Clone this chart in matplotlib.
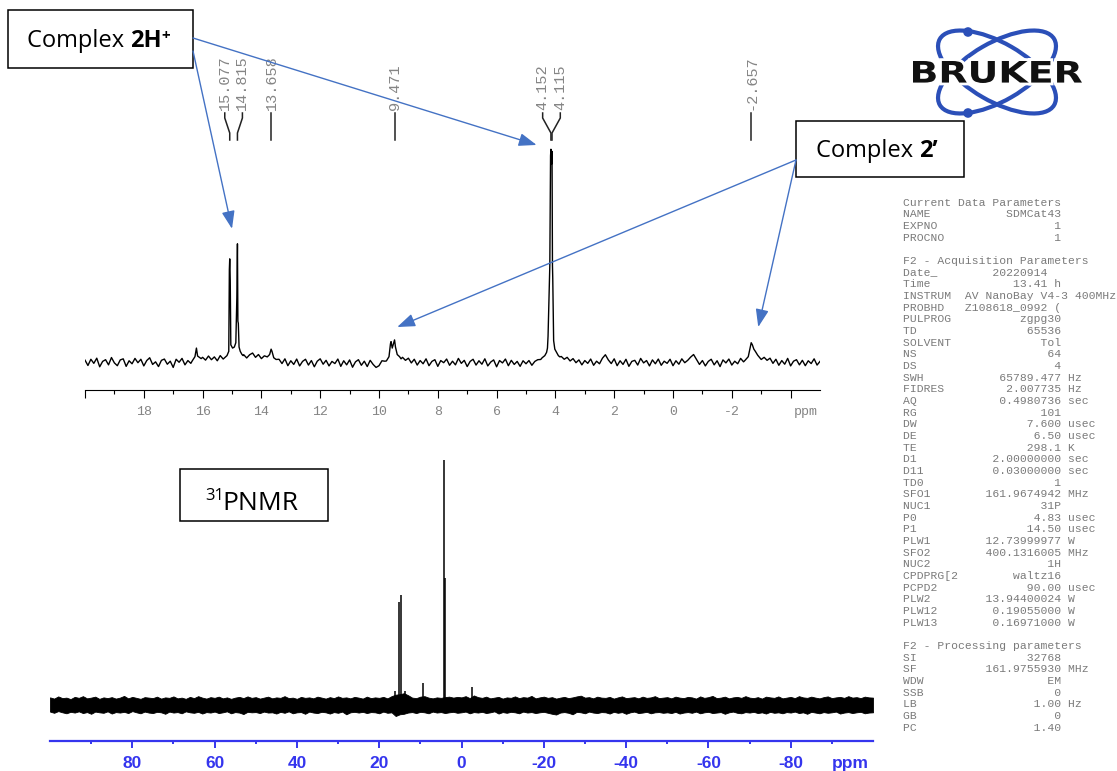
import numpy as np
import matplotlib
matplotlib.use('Agg')
import matplotlib.pyplot as plt
from matplotlib.patches import Rectangle, Ellipse, Circle, PathPatch
from matplotlib.textpath import TextPath
from matplotlib.font_manager import FontProperties
from matplotlib.transforms import blended_transform_factory, Affine2D

W, H = 1117, 771

# ---- expanded 31P trace, ppm 20 .. -5 (tallest line = 100)
UP_RANGE = (20, -5)
UP_NOISE = [
    0.9, -1.6, 1.3, -0.6, 1.8, -2.2, 0.3, 1.1, -1.3, 2.1, -0.4, -1.7, 1.0, 1.5, -2.0, 0.6, -0.8, 1.7, -0.3, 1.3, -1.8, 0.7, 2.0, -1.1, 0.1,
    -2.1, 0.8, 1.4, -1.0, 0.4, -2.5, 1.3, -0.1, 1.7, -1.3, 0.7, -0.6, 0.8, 0.2, 1.0, 2.2, 0.9, 2.8, 1.1, 2.4, 0.6, 3.0, 1.4, 2.0, 3.0,
    5.0, 5.0, 5.0, 5.0, 3.4, 1.9, 3.4, 4.2, 2.2, 3.5, 1.6, 2.9, 1.0, 1.0, 1.0, 1.0, 1.3, -0.7, 1.5, -1.7, 0.6, -1.1, 1.4, -1.8, 0.3,
    1.3, -1.4, 0.7, -2.2, 0.4, 1.5, -1.0, 0.8, -1.8, 0.3, -0.7, 1.4, -2.0, 0.6, -1.3, 1.0, -2.4, 0.1, 1.1, -1.5, 0.4, -2.1, 0.8, -1.1, -2.5,
    -1.7, 0.6, 0.4, 0.0, 0.0, 0.0, 0.0, 0.0, 2.2, 0.8, 1.8, -0.4, 1.3, -1.4, 0.7, -0.8, 1.5, -1.7, 0.3, 1.1, -2.0, 0.7, -0.3, 1.4, -1.5,
    0.4, -1.3, 1.7, -0.6, 0.8, -2.1, 0.3, 1.3, -1.4, 0.6, -1.0, 1.5, -1.8, 0.0, 1.0, -2.2, 0.7, -0.4, 1.4, -1.7, 0.8, -1.1, 0.3, -2.0, 0.6,
    -0.8, 0.7, -1.5, 0.3, 1.1, 1.2, 0.0, 0.0, 0.0, 0.0, 0.0, 0.0, 2.6, 1.3, 2.2, 0.5, 1.6, -0.3, 1.0, -1.3, 0.7, -0.6, 1.4, -1.5, 0.4,
    -0.8, 1.8, 3.4, 1.0, -0.7, 1.5, -1.7, 0.6, -1.1, 1.3, -2.0, 0.3, 0.8, -1.4, 1.7, -0.4, 0.7, -1.8, 1.0, -0.8, 1.4, -1.5, 0.4, -0.6, 1.3,
    -1.7, 0.6, -1.0, 1.5, -0.3, 0.8, 2.3, 3.5, 1.2, -1.1, 0.7, -1.8, 0.3, 1.3, -1.3, 0.6, -2.1, 1.0, -0.4, 1.4, -1.4, 0.4, -0.8, 1.7, 0.1,
    0.0, 0.0, 0.0, 0.0, 0.0, 0.0, 2.2, 0.8, 1.8, -0.6, 1.3, -1.5, 0.7, -1.0, 1.7, -1.8, 0.4, 1.1, -1.3, 0.8, -1.7, 0.6, -0.7, 1.5, -1.4, 0.3,
]
PK162_PPM = [16.35, 16.26, 16.21, 16.17, 16.05]
PK162_INT = [0.6, 2.5, 6.5, 2.8, 1.6]
DBL15_PPM = [15.25, 15.17, 15.11, 15.09, 15.077, 15.06, 15.04, 14.98, 14.92, 14.87,
             14.835, 14.82, 14.815, 14.80, 14.785, 14.76, 14.72, 14.66, 14.62]
DBL15_INT = [2.0, 3.0, 5.0, 43, 48, 38, 8, 6.5, 7, 9, 30, 52, 55, 19, 18, 7, 5, 3.5, 3.0]
PK137_PPM = [13.80, 13.72, 13.67, 13.64, 13.58, 13.50]
PK137_INT = [2.4, 3.5, 6.0, 5.0, 2.0, 1.2]
PK95_PPM = [9.75, 9.66, 9.61, 9.59, 9.55, 9.50, 9.471, 9.44, 9.38, 9.30, 9.25]
PK95_INT = [0.5, 2.5, 8.5, 9.5, 6.5, 9.0, 10.3, 7.0, 3.5, 2.5, 1.5]
PK41_PPM = [4.45, 4.36, 4.30, 4.27, 4.25, 4.22, 4.19, 4.165, 4.152, 4.135, 4.115,
            4.10, 4.09, 4.06, 4.02, 3.96, 3.90, 3.85]
PK41_INT = [2.0, 3.0, 4.5, 6.5, 12, 29, 45, 96, 99, 92, 98, 45, 39, 10, 6, 4.5, 3.0, 2.4]
PKM27_PPM = [-2.45, -2.56, -2.62, -2.66, -2.70, -2.75, -2.80, -2.88, -2.95, -3.0]
PKM27_INT = [0.8, 2.5, 6.5, 9.0, 8.0, 6.0, 5.0, 3.2, 2.0, 1.2]
PEAK_LABELS = [15.077, 14.815, 13.658, 9.471, 4.152, 4.115, -2.657]

# ---- full-width trace, ppm 100 .. -100 (noise band edges + lines)
LO_RANGE = (100, -100)
LO_TOP = [
    3.1, 2.6, 3.5, 2.8, 3.0, 2.4, 3.3, 2.9, 3.6, 2.7, 3.0, 3.4, 2.5, 3.1, 2.8, 3.2, 2.6, 3.0, 3.7, 2.7, 3.3, 2.9, 2.5, 3.2, 3.0,
    2.8, 3.4, 2.6, 3.1, 2.9, 3.5, 2.7, 3.0, 2.5, 3.3, 2.8, 3.6, 3.0, 2.6, 3.2, 2.9, 3.4, 2.7, 3.1, 2.5, 3.0, 3.3, 2.8, 3.5, 2.9,
    3.2, 2.6, 3.0, 3.4, 2.7, 3.1, 2.9, 3.6, 2.8, 3.0, 2.5, 3.3, 2.9, 3.1, 2.7, 3.4, 3.0, 2.6, 3.2, 2.8, 3.5, 2.9, 3.1, 2.7, 3.3,
    3.0, 2.6, 3.4, 2.8, 3.1, 2.9, 3.3, 2.7, 3.6, 4.2, 4.4, 4.8, 4.0, 3.0, 2.8, 3.4, 3.6, 3.0, 2.7, 3.1, 2.9, 3.2, 3.4, 3.0, 3.3,
    3.1, 3.6, 2.8, 3.9, 3.2, 2.9, 3.4, 2.7, 3.0, 3.3, 2.6, 3.1, 2.9, 3.5, 2.8, 3.2, 3.0, 3.7, 2.7, 3.1, 3.4, 2.9, 3.2, 2.6, 3.0,
    3.3, 2.8, 3.1, 3.5, 3.8, 3.0, 3.2, 2.7, 3.4, 3.0, 2.9, 3.3, 2.6, 3.1, 3.5, 2.8, 3.0, 3.2, 2.7, 3.4, 2.9, 3.1, 3.6, 2.8, 3.0,
    3.2, 2.7, 3.4, 3.0, 2.8, 3.3, 3.1, 2.6, 3.5, 2.9, 3.2, 3.7, 2.8, 3.0, 3.4, 2.7, 3.1, 3.3, 2.9, 3.6, 3.0, 2.8, 3.2, 2.6, 3.4,
    3.1, 2.9, 3.5, 2.7, 3.0, 3.3, 2.8, 3.6, 3.1, 2.9, 3.4, 3.0, 2.7, 3.2, 3.5, 2.8, 3.1, 3.3, 2.9, 3.6, 3.0, 3.2, 2.8, 3.4, 3.1,
    3.0,
]
LO_BOT = [
    -2.7, -3.2, -2.5, -3.0, -3.4, -2.8, -3.1, -2.6, -3.3, -2.9, -3.6, -2.7, -3.0, -3.2, -2.6, -3.5, -2.9, -3.1, -2.8, -3.3, -2.5, -3.0, -3.4, -2.7, -3.1,
    -3.3, -2.8, -3.0, -3.6, -2.7, -3.1, -2.9, -3.4, -2.6, -3.0, -3.2, -2.8, -3.5, -2.9, -3.1, -2.7, -3.3, -3.0, -2.6, -3.4, -2.9, -3.1, -3.7, -2.8, -3.0,
    -2.9, -3.3, -2.7, -3.1, -3.0, -3.5, -2.8, -3.2, -2.6, -3.4, -3.0, -2.9, -3.6, -2.7, -3.1, -3.3, -2.8, -3.0, -3.5, -2.9, -3.2, -2.7, -3.8, -3.0, -2.8,
    -3.1, -2.8, -3.3, -2.9, -3.0, -3.4, -2.7, -3.2, -3.0, -4.5, -3.8, -3.6, -3.1, -2.9, -3.3, -2.8, -3.0, -3.4, -2.7, -3.1, -2.9, -3.3, -3.0, -2.8, -3.2,
    -3.0, -2.7, -3.4, -2.9, -3.1, -2.8, -3.3, -3.0, -2.6, -3.5, -2.9, -3.2, -2.8, -3.0, -3.4, -2.7, -3.1, -2.9, -3.3, -3.0, -2.8, -3.2, -3.6, -3.9, -3.1,
    -2.9, -3.2, -3.8, -2.8, -3.0, -3.4, -2.7, -3.1, -3.3, -2.9, -3.0, -3.5, -2.8, -3.2, -2.9, -3.6, -3.0, -2.7, -3.3, -3.1, -2.8, -3.4, -3.0, -2.9, -3.2,
    -3.0, -3.3, -2.8, -3.5, -3.1, -2.9, -3.2, -2.7, -3.4, -3.0, -2.8, -3.3, -3.1, -2.9, -3.6, -3.0, -2.7, -3.2, -3.4, -2.9, -3.1, -2.8, -3.3, -3.0, -3.5,
    -2.8, -3.2, -3.0, -3.4, -2.9, -3.1, -2.7, -3.3, -3.0, -3.6, -2.8, -3.1, -3.4, -2.9, -3.2, -3.0, -2.7, -3.5, -3.1, -2.9, -3.3, -3.0, -2.8, -3.4, -3.1,
    -3.0,
]
LO_PEAK_PPM = [16.2, 15.077, 14.815, 13.658, 9.471, 4.152, 4.115, -2.657]
LO_PEAK_INT = [5.5, 42, 45, 5.7, 9.0, 100, 52, 7.5]

# ---- acquisition parameter listing
CURRENT_ROWS = [("NAME", "SDMCat43", ""), ("EXPNO", "1", ""), ("PROCNO", "1", "")]
ACQ_ROWS = [
    ("Date_", "20220914  ", ""), ("Time", "13.41 h", ""),
    ("INSTRUM", "AV NanoBay V4-3 400MHz", ""), ("PROBHD", "Z108618_0992 (", ""),
    ("PULPROG", "zgpg30", ""), ("TD", "65536", ""), ("SOLVENT", "Tol", ""),
    ("NS", "64", ""), ("DS", "4", ""), ("SWH", "65789.477", "Hz"),
    ("FIDRES", "2.007735", "Hz"), ("AQ", "0.4980736", "sec"), ("RG", "101", ""),
    ("DW", "7.600", "usec"), ("DE", "6.50", "usec"), ("TE", "298.1", "K"),
    ("D1", "2.00000000", "sec"), ("D11", "0.03000000", "sec"), ("TD0", "1", ""),
    ("SFO1", "161.9674942", "MHz"), ("NUC1", "31P", ""), ("P0", "4.83", "usec"),
    ("P1", "14.50", "usec"), ("PLW1", "12.73999977", "W"), ("SFO2", "400.1316005", "MHz"),
    ("NUC2", "1H", ""), ("CPDPRG[2", "waltz16", ""), ("PCPD2", "90.00", "usec"),
    ("PLW2", "13.94400024", "W"), ("PLW12", "0.19055000", "W"), ("PLW13", "0.16971000", "W"),
]
PROC_ROWS = [("SI", "32768", ""), ("SF", "161.9755930", "MHz"), ("WDW", "EM", ""),
             ("SSB", "0", ""), ("LB", "1.00", "Hz"), ("GB", "0", ""), ("PC", "1.40", "")]

ARROW = '#4472C4'
LOBLUE = '#3535ee'
GREY = '#858585'


def merge_trace(grid, noise, groups):
    x = np.asarray(grid, float)
    y = np.asarray(noise, float)
    keep = np.ones(len(x), bool)
    for px, _ in groups:
        keep &= ~((x >= min(px) - 1e-9) & (x <= max(px) + 1e-9))
    xs = np.concatenate([x[keep]] + [np.asarray(p, float) for p, _ in groups])
    ys = np.concatenate([y[keep]] + [np.asarray(v, float) for _, v in groups])
    order = np.argsort(-xs)
    return xs[order], ys[order]


def spread_labels(ppms, gap):
    ppms = sorted(ppms, reverse=True)
    groups = [[ppms[0]]]
    for p in ppms[1:]:
        if groups[-1][-1] - p < gap:
            groups[-1].append(p)
        else:
            groups.append([p])
    out = []
    for g in groups:
        c = np.mean(g)
        out += [(p, c + gap * ((len(g) - 1) / 2 - k)) for k, p in enumerate(g)]
    return out


def fmt_row(name, value, unit):
    return f"{name:<9}{value:>14} {unit}".rstrip()


fig = plt.figure(figsize=(W / 100, H / 100), dpi=100)

# ---------------- upper spectrum ----------------
ax_up = fig.add_axes([85 / W, (H - 390) / H, 735 / W, 250 / H])
up_grid = np.linspace(UP_RANGE[0], UP_RANGE[1], len(UP_NOISE))
groups = [(PK162_PPM, PK162_INT), (DBL15_PPM, DBL15_INT), (PK137_PPM, PK137_INT),
          (PK95_PPM, PK95_INT), (PK41_PPM, PK41_INT), (PKM27_PPM, PKM27_INT)]
ux, uy = merge_trace(up_grid, UP_NOISE, groups)
ax_up.plot(ux, uy, color='black', lw=1.0)
ax_up.set_xlim(*UP_RANGE)
ax_up.set_ylim(-13.0, 103.3)
for s in ('top', 'left', 'right'):
    ax_up.spines[s].set_visible(False)
ax_up.spines['bottom'].set_linewidth(0.8)
ax_up.set_yticks([])
up_major = list(range(20, -5, -2))
ax_up.set_xticks(up_major)
ax_up.set_xticklabels(['' if t in (20, -4) else str(t) for t in up_major])
ax_up.set_xticks(list(range(19, -5, -2)), minor=True)
ax_up.tick_params(axis='x', which='major', length=6, width=0.8, pad=5.5,
                  labelsize=9.5, labelcolor=GREY, labelfontfamily='Liberation Mono')
ax_up.tick_params(axis='x', which='minor', length=3, width=0.8)
ax_up.text(0.981, -0.064, 'ppm', transform=ax_up.transAxes, ha='center', va='top',
           fontsize=9.5, color=GREY, family='Liberation Mono')
ax_up.patch.set_visible(False)

# ---------------- lower spectrum ----------------
ax_lo = fig.add_axes([50 / W, 30 / H, 823 / W, 286 / H])
lo_grid = np.linspace(LO_RANGE[0], LO_RANGE[1], len(LO_TOP))
ax_lo.fill_between(lo_grid, LO_BOT, LO_TOP, color='black', lw=0.6)
ax_lo.vlines(LO_PEAK_PPM, 0, LO_PEAK_INT, color='black', lw=1.1)
ax_lo.set_xlim(*LO_RANGE)
ax_lo.set_ylim(-14.7, 102)
for s in ('top', 'left', 'right'):
    ax_lo.spines[s].set_visible(False)
ax_lo.spines['bottom'].set_color(LOBLUE)
ax_lo.spines['bottom'].set_linewidth(1.6)
ax_lo.set_yticks([])
lo_major = list(range(80, -81, -20))
ax_lo.set_xticks(lo_major)
ax_lo.set_xticklabels([str(t) for t in lo_major])
ax_lo.set_xticks([t for t in range(90, -91, -10) if t % 20], minor=True)
ax_lo.tick_params(axis='x', which='major', length=5, width=1.4, color=LOBLUE, pad=6,
                  labelsize=12.5, labelcolor=LOBLUE)
ax_lo.tick_params(axis='x', which='minor', length=2.5, width=1.4, color=LOBLUE)
for lab in ax_lo.get_xticklabels():
    lab.set_fontweight('bold')
    lab.set_fontfamily('Liberation Sans')
ax_lo.text(0.972, -0.052, 'ppm', transform=ax_lo.transAxes, ha='center', va='top',
           fontsize=12.5, fontweight='bold', color=LOBLUE, family='Liberation Sans')
ax_lo.patch.set_visible(False)

# ---------------- overlay (pixel coordinates, y downwards) ----------------
ov = fig.add_axes([0, 0, 1, 1], zorder=5)
ov.set_xlim(0, W)
ov.set_ylim(H, 0)
ov.axis('off')
up_px = blended_transform_factory(ax_up.transData, ov.transData)

# peak labels with their connector strokes
for peak, lab_x in spread_labels(PEAK_LABELS, 0.6):
    ov.plot([lab_x, lab_x, peak, peak], [113, 118, 133, 140], color='#222222',
            lw=1.1, transform=up_px, solid_joinstyle='miter')
    ov.text(lab_x, 110, f"{peak:.3f}", transform=up_px, rotation=90, ha='center',
            va='bottom', fontsize=11, color=GREY, family='Liberation Mono')

# annotation boxes
for (x0, y0, w, h) in [(8, 10, 185, 58), (796, 121, 168, 56), (180, 469, 148, 52)]:
    ov.add_patch(Rectangle((x0, y0), w, h, fc='white', ec='black', lw=1.1, zorder=2))

t = ov.text(27, 47, 'Complex ', fontsize=17, family='Open Sans', va='baseline', zorder=3)
t = ov.annotate('2H', xy=(1, 0), xycoords=t, fontsize=17, family='Open Sans',
                fontweight='bold', va='bottom', zorder=3)
ov.annotate('+', xy=(1, 0.42), xycoords=t, fontsize=11, family='Open Sans',
            fontweight='bold', va='bottom', zorder=3)
t = ov.text(816, 157, 'Complex ', fontsize=17, family='Open Sans', va='baseline', zorder=3)
ov.annotate('2\u2019', xy=(1, 0), xycoords=t, fontsize=17, family='Open Sans',
            fontweight='bold', va='bottom', zorder=3)
ov.text(222, 510, 'PNMR', fontsize=19, family='Open Sans', va='baseline', ha='left', zorder=3)
ov.text(224, 500, '31', fontsize=12, family='Open Sans', va='baseline', ha='right', zorder=3)

# arrows: box edge -> peaks of the expanded trace
arrow_kw = dict(arrowstyle='-|>,head_length=0.6,head_width=0.22', color=ARROW, lw=1.0,
                mutation_scale=18, shrinkA=0, shrinkB=0)
for start, tip in [((193, 38), (4.64, 101)), ((193, 51), (15.0, 62)),
                   ((796, 160), (9.38, 16.3)), ((796, 160), (-2.9, 16.3))]:
    ov.annotate('', xy=tip, xycoords=ax_up.transData, xytext=start, textcoords='data',
                arrowprops=arrow_kw, annotation_clip=False, zorder=4)

# Bruker logo
LOGO = '#2b4fb8'
for ang in (30, -30):
    ov.add_patch(Ellipse((997, 72), 132, 58, angle=ang, fc='none', ec=LOGO, lw=3.0, zorder=2))
for cy in (32, 113):
    ov.add_patch(Circle((968, cy), 4.8, fc=LOGO, ec='none', zorder=2))
tp = TextPath((0, 0), 'BRUKER', size=10, prop=FontProperties(family='DejaVu Sans', weight='bold'))
ext = tp.get_extents()
tr = Affine2D().translate(-ext.x0, -ext.y0).scale(169 / ext.width, -22 / ext.height).translate(913, 83)
logo_path = tr.transform_path(tp)
ov.add_patch(PathPatch(logo_path, fc='white', ec='white', lw=4, zorder=3))
ov.add_patch(PathPatch(logo_path, fc='#111111', ec='none', zorder=4))

# parameter listing
lines = ["Current Data Parameters"] + [fmt_row(*r) for r in CURRENT_ROWS] + [""]
lines += ["F2 - Acquisition Parameters"] + [fmt_row(*r) for r in ACQ_ROWS] + [""]
lines += ["F2 - Processing parameters"] + [fmt_row(*r) for r in PROC_ROWS]
for k, line in enumerate(lines):
    ov.text(903, 205.5 + 11.67 * k, line, fontsize=8.2, family='Liberation Mono',
            color='#7a7a7a', va='baseline', ha='left')

fig.savefig('out.png', dpi=100)
